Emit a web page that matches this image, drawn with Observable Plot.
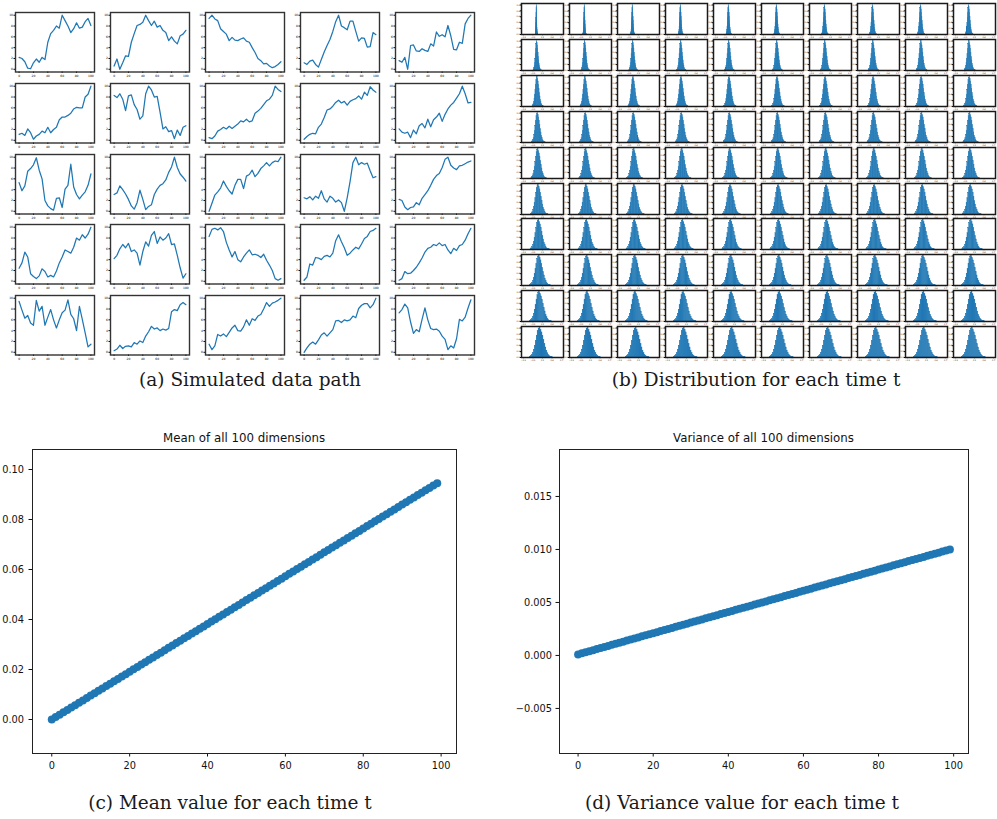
<!DOCTYPE html>
<html><head><meta charset="utf-8">
<script src="https://cdn.jsdelivr.net/npm/d3@7"></script>
<script src="https://cdn.jsdelivr.net/npm/@observablehq/plot@0.6"></script>
<style>
body{margin:0;background:#fff;}
#fig{position:relative;width:997px;height:819px;overflow:hidden;background:#fff;}
.p{position:absolute;}
.p svg{display:block;overflow:visible;}
.cap{position:absolute;font-family:"DejaVu Serif",serif;font-size:18.5px;line-height:1;color:#1a1a1a;white-space:nowrap;transform:translateX(-50%);}
.ttl{position:absolute;font-family:"DejaVu Sans",sans-serif;font-size:11.8px;line-height:1;color:#111;white-space:nowrap;transform:translateX(-50%);}
</style></head><body><div id="fig"></div><script>
// ---------- data ----------
const pathTimes = [0,4,8,12,16,20,24,28,32,36,40,44,48,52,56,60,64,68,72,76,80,84,88,92,96,100];
const pathXTicks = [0,20,40,60,80,100];
const pathYTicks = [0,2,4,6,8,10];

const pathA1 = [2.2,2.0,1.4,0.2,0.1,1.2,1.9,1.3,2.2,1.8,5.0,6.6,7.2,8.0,7.6,10,9.0,8.0,6.8,7.5,8.6,7.6,7.8,8.8,9.4,8.1];
const pathA2 = [0.6,1.9,0.0,1.2,2.5,2.4,5.0,6.6,8.1,8.3,8.7,10,9.0,8.1,8.9,7.8,8.1,7.2,6.8,5.3,6.0,5.2,4.7,6.2,6.5,7.2];
const pathA3 = [9.4,10,9.3,9.0,7.5,7.0,6.5,5.3,5.9,5.4,5.3,5.6,5.8,5.2,5.0,4.0,3.1,2.0,1.6,1.0,1.1,0.6,0.3,0.5,0.9,1.4];
const pathA4 = [1.2,0.9,1.5,1.7,0.9,0.4,1.8,3.2,4.4,5.5,7.0,8.8,10,8.0,7.7,7.3,8.9,8.9,7.0,5.2,5.8,5.7,4.1,4.2,6.8,6.4];
const pathA5 = [1.6,1.3,2.2,0.0,4.4,4.5,3.4,3.3,3.8,3.5,3.3,4.7,4.3,6.9,6.1,6.4,6.0,8.1,6.2,3.7,3.6,5.0,4.8,8.4,9.4,10];
const pathB1 = [1.1,1.3,0.9,2.1,1.4,0.2,0.8,1.1,1.7,1.4,2.4,1.4,2.0,2.4,3.8,4.3,4.3,4.6,5.0,5.8,6.1,6.0,6.0,8.0,8.5,10];
const pathB2 = [8.3,7.9,8.6,7.6,5.5,8.2,8.4,6.6,5.7,3.9,4.5,8.6,10,9.3,8.0,8.1,5.2,2.1,2.5,1.6,1.8,0.3,1.9,0.9,2.4,2.7];
const pathB3 = [0.5,0.3,0.8,1.7,2.0,2.4,2.1,2.6,2.2,2.6,3.0,3.6,3.4,3.9,3.4,3.6,5.0,5.4,5.9,6.6,7.3,7.6,8.3,10,9.4,9.0];
const pathB4 = [0.2,0.7,1.1,1.3,1.2,2.4,3.0,4.2,5.6,5.8,6.3,7.0,7.4,6.9,7.2,6.5,7.2,7.5,7.7,8.2,7.6,8.9,8.3,9.9,9.3,8.9];
const pathB5 = [2.1,1.5,1.3,1.5,0.5,1.9,1.2,2.7,3.1,2.3,3.9,2.5,3.8,4.3,5.0,3.5,4.8,5.8,6.5,7.0,7.8,8.6,10,8.6,6.9,7.0];
const pathC1 = [5.3,3.8,4.7,7.4,7.9,8.6,9.9,7.6,6.0,2.0,1.0,0.5,0.2,2.4,2.5,0.7,4.1,4.8,8.7,4.5,3.1,2.3,3.0,3.6,4.8,6.9];
const pathC2 = [3.1,3.4,4.7,4.0,3.2,2.2,1.0,0.4,1.6,3.9,2.2,0.3,0.9,1.2,3.1,4.1,4.8,5.1,5.8,7.2,8.2,10,8.1,6.9,6.3,5.6];
const pathC3 = [0.0,1.5,3.0,3.6,4.3,5.6,4.6,3.8,3.2,4.8,5.9,5.9,4.2,6.5,6.8,7.6,6.4,7.0,7.9,8.4,9.0,8.4,9.0,9.3,9.2,10];
const pathC4 = [2.5,2.3,2.7,2.1,2.8,2.4,3.8,2.3,1.7,2.8,2.4,1.7,2.1,1.6,0.0,2.5,5.5,9.0,10,8.6,9.0,8.7,8.9,7.5,6.2,6.4];
const pathC5 = [2.2,2.0,0.8,0.3,0.7,0.8,1.6,1.2,2.4,3.1,3.8,4.8,5.9,6.6,7.0,8.1,9.6,10,8.5,8.0,7.7,8.4,8.5,8.8,9.1,9.3];
const pathD1 = [2.4,3.4,5.4,4.5,1.4,0.9,0.5,1.0,2.3,1.8,0.8,1.1,0.8,1.9,3.4,4.5,5.8,5.5,5.2,6.3,8.0,7.6,8.6,8.0,8.7,10];
const pathD2 = [4.2,4.8,6.0,6.8,6.2,7.0,5.5,5.8,5.2,3.0,5.5,7.3,6.5,8.5,9.2,7.0,8.2,7.6,8.0,8.8,6.8,6.9,4.8,2.5,0.6,1.4];
const pathD3 = [8.3,9.6,9.8,9.5,9.9,9.2,7.2,5.8,4.5,5.5,4.0,3.6,4.5,5.2,5.8,4.9,5.0,4.8,4.4,5.0,3.9,3.0,2.0,0.5,0.2,0.5];
const pathD4 = [0.2,0.8,3.2,3.0,4.4,4.3,4.0,4.6,4.8,4.5,5.2,7.5,8.6,7.3,6.2,4.8,5.2,5.8,6.3,6.0,6.9,7.9,8.3,9.2,9.4,9.8];
const pathD5 = [0.2,0.5,1.8,1.4,1.5,2.0,2.6,3.4,4.3,5.4,6.1,6.3,6.8,6.6,7.1,6.6,6.8,5.8,5.1,6.1,5.7,6.6,6.8,7.6,8.8,9.8];
const pathE1 = [9.4,7.8,6.3,6.8,5.4,5.0,9.6,7.6,8.5,5.0,6.5,7.9,6.0,4.5,6.0,7.3,7.8,9.7,7.0,6.2,4.0,8.5,6.1,3.6,1.0,1.5];
const pathE2 = [0.3,0.6,1.3,0.7,1.1,1.2,1.0,1.8,1.5,2.1,1.8,3.0,3.8,4.8,4.3,4.5,4.0,4.3,4.1,4.4,7.5,7.9,7.7,8.8,9.2,8.8];
const pathE3 = [1.5,0.5,1.2,3.3,3.0,3.4,2.9,3.7,4.5,5.0,4.0,3.9,4.7,6.0,5.0,6.2,5.9,6.7,7.0,8.0,9.2,8.5,9.1,9.3,9.6,10];
const pathE4 = [0.0,0.8,1.5,1.9,1.5,2.3,3.2,3.6,3.0,3.6,4.2,5.8,5.9,5.5,6.0,5.8,6.0,6.7,6.4,8.1,8.7,9.0,9.0,8.2,8.8,10];
const pathE5 = [7.3,7.9,8.9,8.2,5.6,3.5,4.2,3.8,6.1,8.2,6.0,4.4,4.2,4.3,3.9,3.0,2.4,0.5,1.2,0.8,2.5,6.1,5.8,6.5,8.2,9.7];
const pathList = [pathA1,pathA2,pathA3,pathA4,pathA5,pathB1,pathB2,pathB3,pathB4,pathB5,pathC1,pathC2,pathC3,pathC4,pathC5,pathD1,pathD2,pathD3,pathD4,pathD5,pathE1,pathE2,pathE3,pathE4,pathE5];

const timeSteps = [0,1,2,3,4,5,6,7,8,9,10,11,12,13,14,15,16,17,18,19,20,21,22,23,24,25,26,27,28,29,30,31,32,33,34,35,36,37,38,39,40,41,42,43,44,45,46,47,48,49,50,51,52,53,54,55,56,57,58,59,60,61,62,63,64,65,66,67,68,69,70,71,72,73,74,75,76,77,78,79,80,81,82,83,84,85,86,87,88,89,90,91,92,93,94,95,96,97,98,99];
const meanValues = [0.0000,0.0010,0.0019,0.0029,0.0038,0.0048,0.0057,0.0067,0.0076,0.0086,0.0096,0.0105,0.0115,0.0124,0.0134,0.0143,0.0153,0.0162,0.0172,0.0181,0.0191,0.0201,0.0210,0.0220,0.0229,0.0239,0.0248,0.0258,0.0267,0.0277,0.0287,0.0296,0.0306,0.0315,0.0325,0.0334,0.0344,0.0353,0.0363,0.0372,0.0382,0.0392,0.0401,0.0411,0.0420,0.0430,0.0439,0.0449,0.0458,0.0468,0.0478,0.0487,0.0497,0.0506,0.0516,0.0525,0.0535,0.0544,0.0554,0.0563,0.0573,0.0583,0.0592,0.0602,0.0611,0.0621,0.0630,0.0640,0.0649,0.0659,0.0669,0.0678,0.0688,0.0697,0.0707,0.0716,0.0726,0.0735,0.0745,0.0754,0.0764,0.0774,0.0783,0.0793,0.0802,0.0812,0.0821,0.0831,0.0840,0.0850,0.0860,0.0869,0.0879,0.0888,0.0898,0.0907,0.0917,0.0926,0.0936,0.0945];
const varianceValues = [0.0001,0.0002,0.0003,0.0004,0.0005,0.0006,0.0007,0.0008,0.0009,0.0010,0.0011,0.0012,0.0013,0.0014,0.0015,0.0016,0.0017,0.0018,0.0019,0.0020,0.0021,0.0022,0.0023,0.0024,0.0025,0.0026,0.0027,0.0028,0.0029,0.0030,0.0031,0.0032,0.0033,0.0034,0.0035,0.0036,0.0037,0.0038,0.0039,0.0040,0.0041,0.0042,0.0043,0.0044,0.0045,0.0046,0.0047,0.0048,0.0049,0.0050,0.0051,0.0052,0.0053,0.0054,0.0055,0.0056,0.0057,0.0058,0.0059,0.0060,0.0061,0.0062,0.0063,0.0064,0.0065,0.0066,0.0067,0.0068,0.0069,0.0070,0.0071,0.0072,0.0073,0.0074,0.0075,0.0076,0.0077,0.0078,0.0079,0.0080,0.0081,0.0082,0.0083,0.0084,0.0085,0.0086,0.0087,0.0088,0.0089,0.0090,0.0091,0.0092,0.0093,0.0094,0.0095,0.0096,0.0097,0.0098,0.0099,0.0100];

// histogram bin edges (in standard deviations) and relative bin heights
const histEdgesZ = [-2.8,-2.53,-2.27,-2.0,-1.73,-1.47,-1.2,-0.93,-0.67,-0.4,-0.13,0.13,0.4,0.67,0.93,1.2,1.47,1.73,2.0,2.27,2.53,2.8,3.07,3.33,3.6];
const histProfile = [0.02,0.04,0.08,0.15,0.26,0.40,0.56,0.74,0.90,0.98,1.0,0.93,0.85,0.74,0.60,0.46,0.34,0.23,0.15,0.09,0.05,0.03,0.015,0.006];
const histXTicks = [-0.35,-0.1,0.15,0.4,0.65];
const histYTicks = [0,0.2,0.4,0.6,0.8,1.0];

const bigXTicks = [0,20,40,60,80,100];
const meanYTicks = [0,0.02,0.04,0.06,0.08,0.10];
const varYTicks = [-0.005,0,0.005,0.010,0.015];

const titles = ["Mean of all 100 dimensions","Variance of all 100 dimensions"];
const captions = ["(a) Simulated data path","(b) Distribution for each time t","(c) Mean value for each time t","(d) Variance value for each time t"];

const BLUE = "#1f77b4";
// ---------- layout ----------
const fig = document.getElementById("fig");
function place(node, left, top, w){
  const d = document.createElement("div");
  d.className = "p";
  d.style.left = left + "px"; d.style.top = top + "px"; d.style.width = w + "px";
  d.appendChild(node); fig.appendChild(d);
}
function text(cls, str, cx, top){
  const d = document.createElement("div");
  d.className = cls; d.textContent = str;
  d.style.left = cx + "px"; d.style.top = top + "px";
  fig.appendChild(d);
}

// (a) 5x5 paths
{
  const fw = 79, fh = 59.5, ml = 12, mr = 2, mt = 2, mb = 7;
  pathList.forEach((vals, k) => {
    const r = Math.floor(k / 5), c = k % 5;
    const left = 15 + c * 94.9, top = 12.3 + r * 70.6;
    const data = pathTimes.map((t, i) => ({t, v: vals[i]}));
    const svg = Plot.plot({
      width: fw + ml + mr, height: fh + mt + mb,
      marginLeft: ml, marginRight: mr, marginTop: mt, marginBottom: mb,
      style: {fontSize: "3px", fontFamily: "DejaVu Sans", background: "transparent", overflow: "visible"},
      x: {domain: [-5, 105], ticks: pathXTicks, tickSize: 1.5, tickPadding: 1, label: null},
      y: {domain: [-0.5, 10.5], ticks: pathYTicks, tickSize: 1.5, tickPadding: 1, label: null},
      marks: [
        Plot.line(data, {x: "t", y: "v", stroke: BLUE, strokeWidth: 1.25}),
        Plot.frame({stroke: "#333", strokeWidth: 1.4})
      ]
    });
    place(svg, left - ml, top - mt, fw + ml + mr);
  });
}

// (b) 10x10 histograms
{
  const fw = 42, fh = 31, ml = 7, mr = 1, mt = 1, mb = 4;
  for (let k = 0; k < 100; k++) {
    const r = Math.floor(k / 10), c = k % 10;
    const left = 520.5 + c * 48.1, top = 3 + r * 35.9;
    const mu = meanValues[k], sd = Math.sqrt(varianceValues[k]);
    const bins = histProfile.map((h, i) => ({x1: mu + histEdgesZ[i] * sd, x2: mu + histEdgesZ[i + 1] * sd, y: h}));
    const svg = Plot.plot({
      width: fw + ml + mr, height: fh + mt + mb,
      marginLeft: ml, marginRight: mr, marginTop: mt, marginBottom: mb,
      style: {fontSize: "2px", fontFamily: "DejaVu Sans", background: "transparent", overflow: "visible"},
      x: {domain: [-0.4, 0.7], ticks: histXTicks, tickSize: 1.2, tickPadding: 0.6, label: null},
      y: {domain: [0, 1.05], ticks: histYTicks, tickSize: 1.2, tickPadding: 0.6, tickFormat: d3.format(".1f"), label: null},
      marks: [
        Plot.rectY(bins, {x1: "x1", x2: "x2", y: "y", fill: BLUE, stroke: BLUE, strokeWidth: 0.35}),
        Plot.frame({stroke: "#1a1a1a", strokeWidth: 1.5})
      ]
    });
    place(svg, left - ml, top - mt, fw + ml + mr);
  }
}

// (c) mean
{
  const meanData = timeSteps.map((t, i) => ({t, v: meanValues[i]}));
  const ml = 32, mr = 14, mt = 5, mb = 25;
  const svg = Plot.plot({
    width: 424 + ml + mr, height: 304 + mt + mb,
    marginLeft: ml, marginRight: mr, marginTop: mt, marginBottom: mb,
    style: {fontSize: "9.8px", fontFamily: "DejaVu Sans", background: "transparent", overflow: "visible", color: "#111"},
    x: {domain: [-4.95, 103.95], ticks: bigXTicks, tickSize: 3.5, tickPadding: 5, label: null},
    y: {domain: [-0.0136, 0.108], ticks: meanYTicks, tickSize: 3.5, tickPadding: 5, tickFormat: d3.format(".2f"), label: null},
    marks: [
      Plot.dot(meanData, {x: "t", y: "v", r: 4, fill: BLUE}),
      Plot.frame({stroke: "#222", strokeWidth: 1})
    ]
  });
  place(svg, 0, 449 - mt, 424 + ml + mr);
  text("ttl", titles[0], 244, 433);
}

// (d) variance
{
  const varData = timeSteps.map((t, i) => ({t, v: varianceValues[i]}));
  const ml = 60, mr = 14, mt = 5, mb = 25;
  const svg = Plot.plot({
    width: 409 + ml + mr, height: 304 + mt + mb,
    marginLeft: ml, marginRight: mr, marginTop: mt, marginBottom: mb,
    style: {fontSize: "9.8px", fontFamily: "DejaVu Sans", background: "transparent", overflow: "visible", color: "#111"},
    x: {domain: [-4.95, 103.95], ticks: bigXTicks, tickSize: 3.5, tickPadding: 5, label: null},
    y: {domain: [-0.00925, 0.01943], ticks: varYTicks, tickSize: 3.5, tickPadding: 4, tickFormat: d3.format(".3f"), label: null},
    marks: [
      Plot.dot(varData, {x: "t", y: "v", r: 4, fill: BLUE}),
      Plot.frame({stroke: "#222", strokeWidth: 1})
    ]
  });
  place(svg, 559 - ml, 449 - mt, 409 + ml + mr);
  text("ttl", titles[1], 763.5, 433);
}

// captions
text("cap", captions[0], 250, 371);
text("cap", captions[1], 756, 371);
text("cap", captions[2], 230, 794);
text("cap", captions[3], 742, 794);
</script></body></html>
